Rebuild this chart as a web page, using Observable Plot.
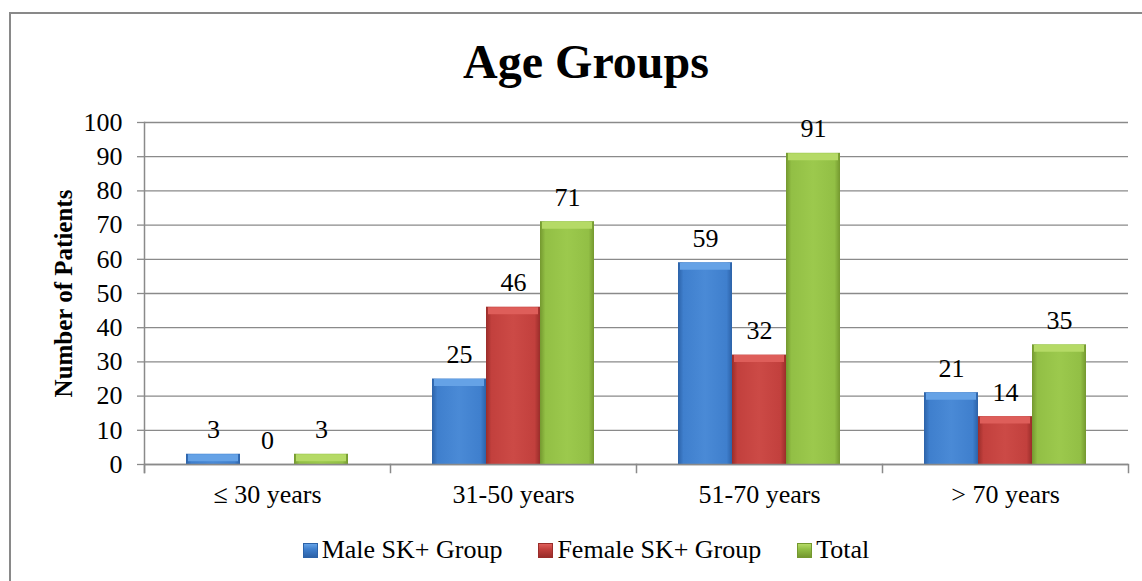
<!DOCTYPE html>
<html><head><meta charset="utf-8">
<script src="https://cdn.jsdelivr.net/npm/d3@7"></script>
<script src="https://cdn.jsdelivr.net/npm/@observablehq/plot@0.6"></script>
<style>
html,body{margin:0;padding:0;background:#fff;overflow:hidden}
#root{position:relative;width:1142px;height:581px;overflow:hidden;font-family:"Liberation Serif","Times New Roman",serif;color:#000}
#title{position:absolute;left:0;top:38px;width:1172px;text-align:center;font-weight:bold;font-size:48px;line-height:48px}
#chart{position:absolute;left:0;top:100px}
#chart svg, #chart svg text, #chart svg g{font-family:"Liberation Serif","Times New Roman",serif !important}
#legend{position:absolute;left:0;top:537px;width:1172px;text-align:center;font-size:26px;line-height:26px;white-space:nowrap}
.item{display:inline-block;margin:0 18px}
.sw{display:inline-block;width:15px;height:15px;margin-right:4px;vertical-align:baseline;box-sizing:border-box}
#border{position:absolute;left:9px;top:12px;width:1300px;height:800px;border:2px solid #898989;pointer-events:none}
</style></head>
<body>
<div id="root">
  <div id="title">Age Groups</div>
  <div id="chart"></div>
  <div id="legend"></div>
  <div id="border"></div>
</div>
<script>
// ---- data ----
const categories = ["\u2264 30 years", "31-50 years", "51-70 years", "> 70 years"];
const seriesNames = ["Male SK+ Group", "Female SK+ Group", "Total"];
const maleValues = [3, 25, 59, 21];
const femaleValues = [0, 46, 32, 14];
const totalValues = [3, 71, 91, 35];
const yTicks = [0, 10, 20, 30, 40, 50, 60, 70, 80, 90, 100];
const yLabel = "Number of Patients";

// ---- styles ----
const palette = [
  {edge: "#2c62a8", main: "#3f7fcd", light: "#4a8ad6", top: "#65a2e6"},
  {edge: "#9a2d2a", main: "#c2403d", light: "#cc4a46", top: "#de5e5a"},
  {edge: "#74982f", main: "#92bf45", light: "#9cc94d", top: "#b5da66"}
];
const gray = "#8a8a8a";
const font = "Liberation Serif, Times New Roman, serif";

const valuesBySeries = [maleValues, femaleValues, totalValues];
const rows = categories.flatMap((c, i) =>
  seriesNames.map((s, j) => ({category: c, series: s, value: valuesBySeries[j][i]})));

const W = 1142, H = 420, mt = 22, mb = 56, ml = 144, mr = 14;
const plotH = H - mt - mb;

const bevelMarks = seriesNames.map((s, j) =>
  Plot.tickY(rows.filter(d => d.series === s && d.value > 0), {
    fx: "category", x: "series", y: "value",
    stroke: palette[j].top, strokeWidth: 7, dy: 3.5, insetLeft: 2, insetRight: 2
  }));

const svg = Plot.plot({
  width: W, height: H,
  marginTop: mt, marginBottom: mb, marginLeft: ml, marginRight: mr,
  style: {fontFamily: font, fontSize: "26px", background: "transparent", color: "#000"},
  fx: {domain: categories, padding: 0, label: null},
  x: {domain: seriesNames, paddingInner: 0, paddingOuter: 0.75, axis: null},
  y: {domain: [0, 100], axis: null},
  color: {domain: seriesNames, range: seriesNames.map((s, j) => `url(#bargrad${j})`)},
  marks: [
    Plot.gridY(yTicks, {stroke: gray, strokeOpacity: 1, strokeWidth: 1.3}),
    Plot.barY(rows, {fx: "category", x: "series", y: "value", fill: "series"}),
    ...bevelMarks,
    Plot.ruleY([0], {stroke: gray, strokeWidth: 1.5}),
    Plot.frame({anchor: "left", facetAnchor: "left", stroke: gray, strokeWidth: 1.5, insetBottom: -8}),
    Plot.frame({anchor: "left", stroke: gray, strokeWidth: 1.5, insetTop: plotH, insetBottom: -8}),
    Plot.frame({anchor: "right", facetAnchor: "right", stroke: gray, strokeWidth: 1.5, insetTop: plotH, insetBottom: -8}),
    Plot.axisY({ticks: yTicks, tickSize: 7, tickPadding: 15, stroke: gray, strokeWidth: 1.3, fill: "#000", fontSize: 26, fontFamily: font, label: null, tickFormat: d => String(d)}),
    Plot.axisY({ticks: [], label: yLabel, labelAnchor: "center", labelOffset: 90, labelArrow: false, fontSize: 25, fontWeight: "bold", fontFamily: font, fill: "#000"}),
    Plot.axisFx({anchor: "bottom", tickSize: 0, tickPadding: 20, fontSize: 26, fontFamily: font, label: null, fill: "#000"}),
    Plot.text(rows, {fx: "category", x: "series", y: "value", text: d => String(d.value), lineAnchor: "bottom", dy: -16, fontSize: 26, fontFamily: font, fill: "#000"})
  ]
});

const svgEl = svg.tagName.toLowerCase() === "svg" ? svg : svg.querySelector("svg");
const ns = "http://www.w3.org/2000/svg";
const defs = document.createElementNS(ns, "defs");
defs.innerHTML = palette.map((p, j) => `
  <linearGradient id="bargrad${j}" x1="0" x2="1" y1="0" y2="0">
    <stop offset="0" stop-color="${p.edge}"/>
    <stop offset="0.1" stop-color="${p.main}"/>
    <stop offset="0.5" stop-color="${p.light}"/>
    <stop offset="0.9" stop-color="${p.main}"/>
    <stop offset="1" stop-color="${p.edge}"/>
  </linearGradient>`).join("");
svgEl.insertBefore(defs, svgEl.firstChild);
document.getElementById("chart").appendChild(svg);

// ---- legend ----
const legend = document.getElementById("legend");
seriesNames.forEach((s, j) => {
  const item = document.createElement("span");
  item.className = "item";
  const sw = document.createElement("span");
  sw.className = "sw";
  const p = palette[j];
  sw.style.background = `linear-gradient(to bottom, ${p.top} 0%, ${p.main} 40%, ${p.edge} 100%)`;
  sw.style.border = `1px solid ${p.edge}`;
  item.appendChild(sw);
  item.appendChild(document.createTextNode(s));
  legend.appendChild(item);
});
</script>
</body></html>
